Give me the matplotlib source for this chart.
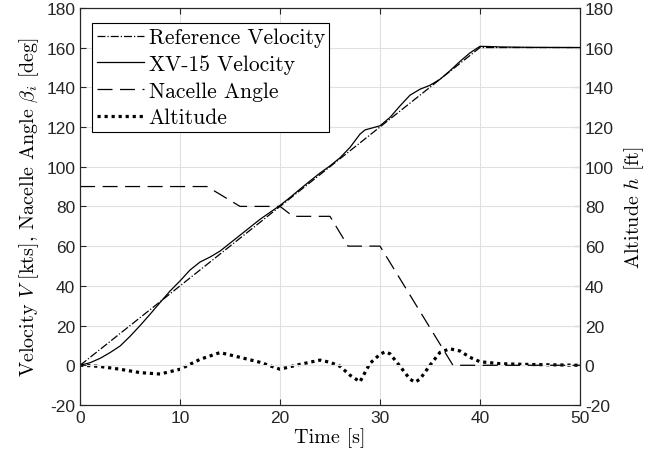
import numpy as np
import matplotlib
matplotlib.use('Agg')
import matplotlib.pyplot as plt

plt.rcParams['font.family'] = ['Liberation Sans', 'DejaVu Sans']
plt.rcParams['mathtext.fontset'] = 'cm'
plt.rcParams['axes.unicode_minus'] = False

# reference velocity [kts]
t_ref = [0, 40, 50]
v_ref = [0, 160, 160]

# XV-15 velocity [kts]
t_xv = [0, 1, 2, 3, 4, 5, 6, 7, 8, 9, 10, 11, 12, 13, 14, 15, 16, 17, 18, 19, 20,
        21, 22, 23, 24, 25, 26, 27, 28, 28.5, 29, 30, 31, 32, 33, 34, 35, 36, 37,
        38, 39, 40, 41, 42, 45, 50]
v_xv = [0, 1.3, 3.5, 6.4, 9.7, 14.6, 20.0, 25.7, 31.6, 37.4, 42.5, 48.0, 52.0,
        54.5, 57.5, 61.5, 65.5, 69.5, 73.5, 77.0, 80.5, 84.5, 88.7, 92.8, 96.8,
        100.4, 104.5, 109.7, 116.4, 118.5, 119.2, 120.6, 124.8, 130.6, 136.0,
        139.0, 141.0, 144.0, 148.3, 153.0, 157.3, 160.6, 160.5, 160.3, 160.1, 160.0]

# nacelle angle [deg]
t_nac = [0, 12.7, 16.0, 20.0, 21.3, 25.0, 26.8, 30.0, 37.3, 50]
b_nac = [90, 90, 80, 80, 75, 75, 60, 60, 0, 0]

# altitude [ft]
t_alt = [0, 1, 2, 4, 6, 8, 10, 12, 14, 16, 18, 20, 22, 24, 25, 26, 27, 28, 29,
         30, 30.5, 31, 32, 33, 33.5, 34, 35, 36, 37, 38, 39, 40, 42, 45, 50]
h_alt = [0, -0.2, -0.6, -2.0, -3.7, -4.4, -2.0, 3.0, 6.4, 4.0, 1.5, -2.0, 0.5,
         2.6, 1.5, -0.5, -5.0, -8.3, 1.0, 5.5, 6.8, 5.8, -0.5, -7.0, -8.5, -7.0,
         0.0, 6.5, 8.3, 7.2, 4.0, 1.8, 0.8, 0.4, 0.0]

fig = plt.figure(figsize=(6.62, 4.64), dpi=100)
ax = fig.add_axes([0.121, 0.125, 0.755, 0.856])
ax2 = ax.twinx()

h1, = ax.plot(t_ref, v_ref, color='black', lw=0.9, linestyle='-.', label='Reference Velocity')
h2, = ax.plot(t_xv, v_xv, color='black', lw=0.9, linestyle='-', label='XV-15 Velocity')
h3, = ax.plot(t_nac, b_nac, color='black', lw=0.9, linestyle=(0, (12, 6)), label='Nacelle Angle')
h4, = ax2.plot(t_alt, h_alt, color='black', lw=2.3, linestyle=(0, (1, 1.2)), label='Altitude')

for a in (ax, ax2):
    a.set_xlim(0, 50)
    a.set_ylim(-20, 180)
    a.set_yticks(np.arange(-20, 181, 20))
    a.tick_params(direction='in', labelsize=12.5, length=4, width=0.8, colors='#262626')
    a.tick_params(axis='x', top=True)
    for s in a.spines.values():
        s.set_color('#262626')
        s.set_linewidth(0.8)
ax.set_xticks(np.arange(0, 51, 10))
ax.grid(True, color='#e0e0e0', lw=0.8)
ax.set_axisbelow(True)

lab = dict(family='cmr10', fontsize=14.5)
ax.set_xlabel('Time [s]', labelpad=2, **lab)
ax.set_ylabel(r'Velocity $V$ [kts], Nacelle Angle $\beta_i$ [deg]', labelpad=4, **lab)
ax2.set_ylabel(r'Altitude $h$ [ft]', labelpad=6, **lab)

leg = ax.legend(handles=[h1, h2, h3, h4], loc='upper left', bbox_to_anchor=(0.024, 0.962),
                prop={'family': 'cmr10', 'size': 15.5}, fancybox=False,
                edgecolor='black', framealpha=1, handlelength=2.2, handletextpad=0.2,
                borderpad=0.22, labelspacing=0.33, borderaxespad=0)
leg.get_frame().set_linewidth(0.8)
ax.set_zorder(ax2.get_zorder() + 1)
ax.patch.set_visible(False)

fig.savefig('out.png', dpi=100)
